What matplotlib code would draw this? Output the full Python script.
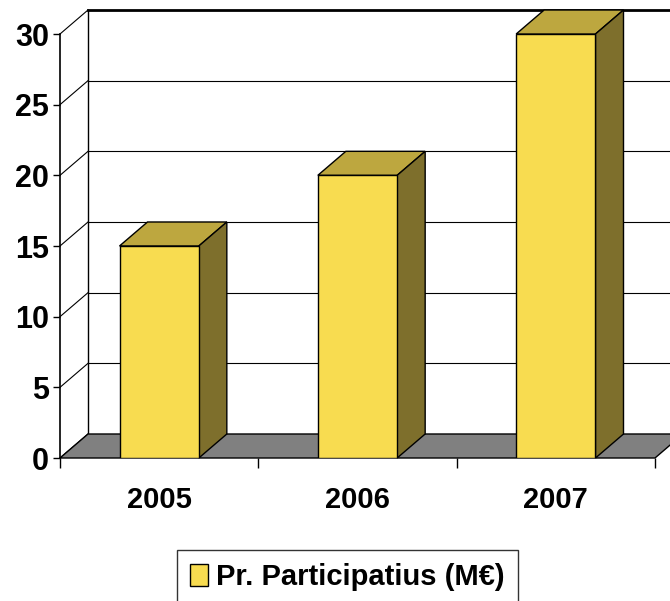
import matplotlib
matplotlib.use("Agg")
import matplotlib.pyplot as plt
from matplotlib.patches import Polygon, Patch

categories = ["2005", "2006", "2007"]
values = [15, 20, 30]
series_name = "Pr. Participatius (M€)"
y_ticks = [0, 5, 10, 15, 20, 25, 30]

FRONT = "#F8DC50"
TOP = "#BDA73F"
SIDE = "#7E6F2C"
FLOOR = "#808080"

W, H = 670, 601
plt.rcParams['font.family'] = ['Liberation Sans', 'DejaVu Sans']
fig = plt.figure(figsize=(W / 100, H / 100), dpi=100)

# front plane in pixels
x0, x1 = 60, 655
yb, yt = 458, 34
ax = fig.add_axes([x0 / W, (H - yb) / H, (x1 - x0) / W, (yb - yt) / H])
n = len(categories)
ax.set_xlim(0, n)
ax.set_ylim(0, 30)

# depth offset in data units
px_x = (x1 - x0) / n
px_y = (yb - yt) / 30
ddx = 28 / px_x
ddy = 24 / px_y

kw = dict(clip_on=False)
# floor
ax.add_patch(Polygon([(0, 0), (n, 0), (n + ddx, ddy), (ddx, ddy)],
                     closed=True, facecolor=FLOOR, edgecolor="black", lw=1, zorder=1, **kw))
# back wall gridlines and left wall diagonals
for v in y_ticks:
    if v > 0:
        ax.plot([ddx, n + ddx + 1], [v + ddy, v + ddy], color="black",
                lw=2 if v == 30 else 0.8, zorder=0.5, **kw)
    ax.plot([0, ddx], [v, v + ddy], color="black", lw=0.8, zorder=0.5, **kw)
ax.plot([ddx, ddx], [ddy, 30 + ddy], color="black", lw=1, zorder=0.5, **kw)

# bars
bw = 0.4
xs = [i + 0.5 for i in range(n)]
ax.bar(xs, values, width=bw, color=FRONT, edgecolor="black", lw=1, zorder=3)
for xc, v in zip(xs, values):
    l, r = xc - bw / 2, xc + bw / 2
    ax.add_patch(Polygon([(l, v), (r, v), (r + ddx, v + ddy), (l + ddx, v + ddy)],
                         closed=True, facecolor=TOP, edgecolor="black", lw=1, zorder=2, **kw))
    ax.add_patch(Polygon([(r, 0), (r + ddx, ddy), (r + ddx, v + ddy), (r, v)],
                         closed=True, facecolor=SIDE, edgecolor="black", lw=1, zorder=2, **kw))

ax.patch.set_visible(False)
for s in ["top", "right"]:
    ax.spines[s].set_visible(False)
ax.spines["left"].set_linewidth(1.2)
ax.spines["bottom"].set_visible(False)
ax.set_yticks(y_ticks)
ax.set_yticklabels([str(v) for v in y_ticks], fontsize=22, fontweight="bold")
ax.tick_params(axis="y", length=5, width=1, pad=3)
ax.set_xticks(range(n + 1))
ax.set_xticklabels([""] * (n + 1))
ax.tick_params(axis="x", which="major", length=7, width=1, direction="out")
ax.set_xticks(xs, minor=True)
ax.set_xticklabels(categories, minor=True, fontsize=21, fontweight="bold")
ax.tick_params(axis="x", which="minor", length=0, pad=20)

handle = Patch(facecolor=FRONT, edgecolor="black", lw=1)
fig.legend([handle], [series_name], loc="upper left",
           bbox_to_anchor=(177 / W, 1 - 550 / H), borderaxespad=0, frameon=True, fancybox=False,
           edgecolor="black", prop=dict(size=21, weight="bold"),
           handlelength=0.6, handleheight=0.8, handletextpad=0.3, borderpad=0.45)

fig.savefig("out.png", dpi=100)
